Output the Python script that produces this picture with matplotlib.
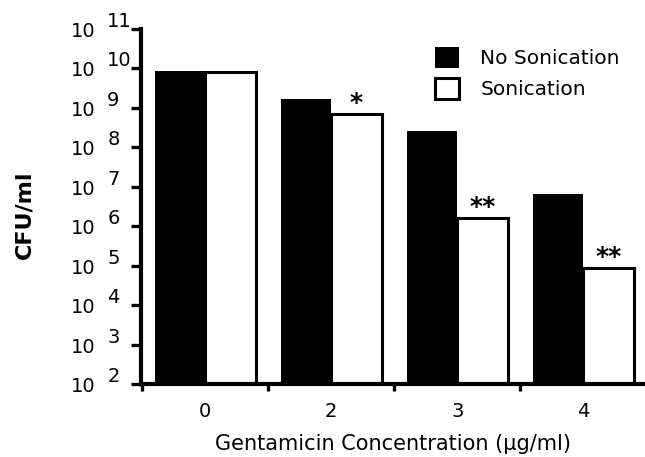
import matplotlib
matplotlib.use("Agg")
import matplotlib.pyplot as plt
import matplotlib.transforms as mtransforms
from matplotlib.patches import Patch
import numpy as np

categories = ["0", "2", "3", "4"]
no_sonication = [8.7e9, 1.7e9, 2.6e8, 6.7e6]
sonication = [8.0e9, 7.2e8, 1.66e6, 8.7e4]
significance = ["", "*", "**", "**"]
exponents = [2, 3, 4, 5, 6, 7, 8, 9, 10, 11]

plt.rcParams['font.family'] = ['DejaVu Sans']

fig = plt.figure(figsize=(6.45, 4.57), dpi=100)
ax = fig.add_axes([141/645, 1-384/457, 1-141/645, (384-29)/457])

x = np.arange(len(categories))
w = 0.4
ax.bar(x - w/2, no_sonication, width=w, color='black', edgecolor='black', linewidth=0, zorder=2)
ax.bar(x + w/2, sonication, width=w, color='white', edgecolor='black', linewidth=2.2, zorder=2)

ax.set_yscale('log')
ax.set_ylim(1e2, 1e11)
ax.set_xlim(-0.51, 3.49)

for s in ['top', 'right']:
    ax.spines[s].set_visible(False)
for s in ['left', 'bottom']:
    ax.spines[s].set_linewidth(3)

# y ticks
ax.set_yticks([10.0**e for e in exponents])
ax.yaxis.set_minor_locator(matplotlib.ticker.LogLocator(base=10, subs=np.arange(2, 10)))
ax.yaxis.set_minor_formatter(matplotlib.ticker.NullFormatter())
ax.set_yticklabels([])
ax.tick_params(axis='y', which='major', direction='out', length=7, width=2.4)
ax.tick_params(axis='y', which='minor', direction='out', length=3.5, width=1.5)

ytr = ax.get_yaxis_transform()
t_base = mtransforms.offset_copy(ytr, fig=fig, x=0, y=-8, units='dots')
t_exp = mtransforms.offset_copy(ytr, fig=fig, x=0, y=2, units='dots')
for e in exponents:
    ax.text(-0.091, 10.0**e, "10", transform=t_base, ha='right', va='baseline', fontsize=14)
    ax.text(-0.067, 10.0**e, str(e), transform=t_exp, ha='left', va='baseline', fontsize=14)

# x ticks
ax.set_xticks(x)
ax.set_xticklabels(categories, fontsize=14)
ax.tick_params(axis='x', which='major', length=0, pad=13)
ax.set_xticks(np.arange(-0.5, len(categories) - 0.5, 1.0), minor=True)
ax.tick_params(axis='x', which='minor', direction='out', length=5, width=2.4)

ax.set_xlabel("Gentamicin Concentration (\u03bcg/ml)", fontsize=15)
ax.xaxis.set_label_coords(0.50, -0.14)

fig.text(24/645, 1-215/457, "CFU/ml", rotation=90, fontsize=16, fontweight='bold', ha='center', va='center')

# significance marks
for xi, v, s in zip(x, sonication, significance):
    if s:
        ax.annotate(s, xy=(xi + w/2, v), xytext=(0, -1), textcoords='offset points',
                    ha='center', va='bottom', fontsize=18, fontweight='bold')

handles = [Patch(facecolor='black', edgecolor='black', linewidth=0),
           Patch(facecolor='white', edgecolor='black', linewidth=2.2)]
leg = ax.legend(handles, ["No Sonication", "Sonication"], loc='upper left',
                bbox_to_anchor=(435/645, 1-47/457), bbox_transform=fig.transFigure,
                frameon=False, fontsize=14.5, handlelength=1.2, handleheight=1.2,
                handletextpad=1.05, labelspacing=0.5, borderpad=0, borderaxespad=0)

fig.savefig("out.png", dpi=100)
